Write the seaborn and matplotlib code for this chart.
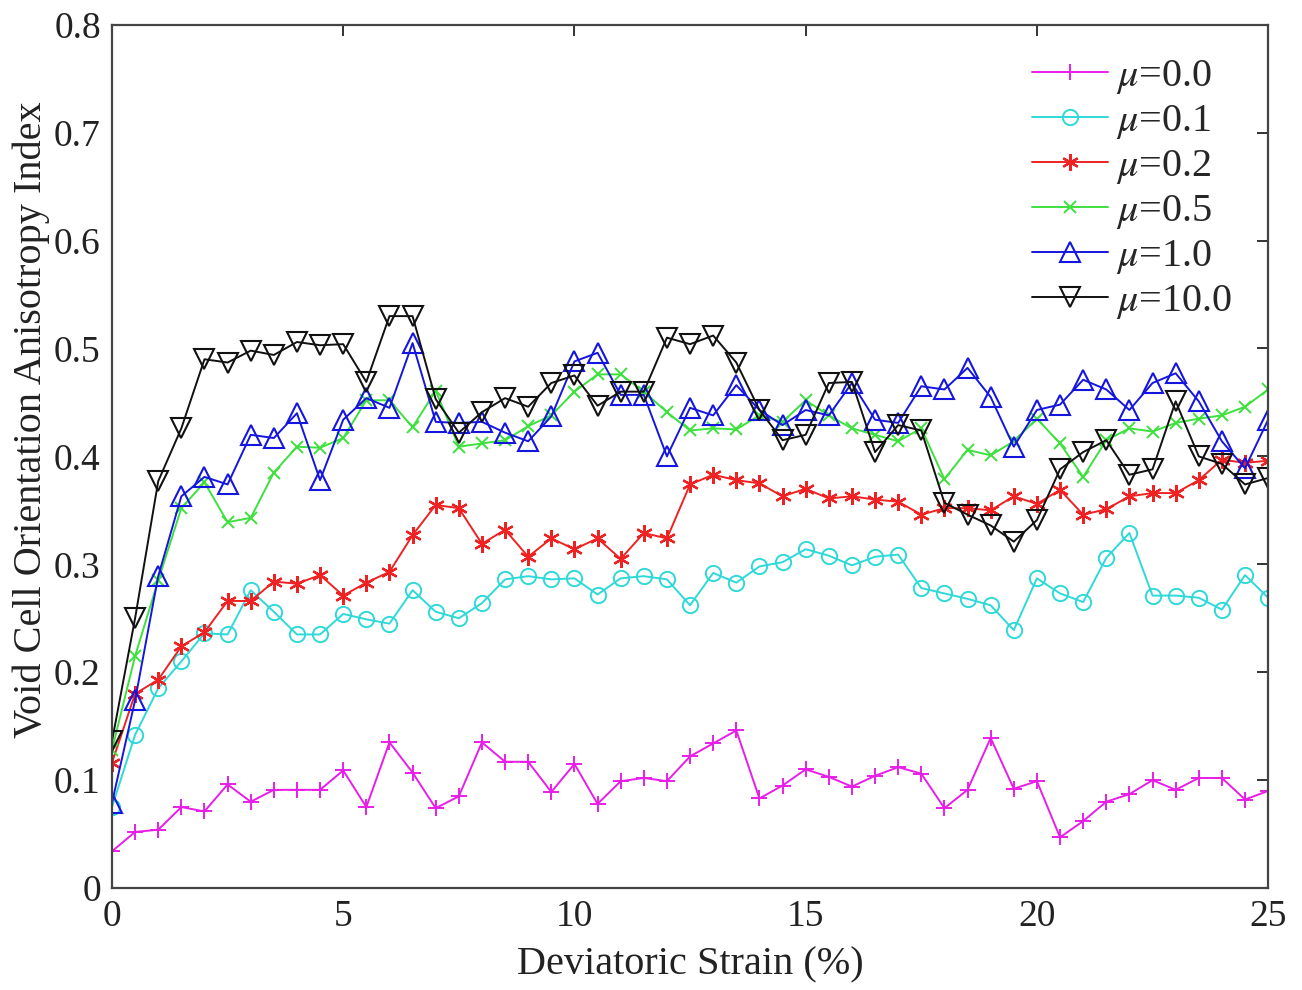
import numpy as np
import pandas as pd
import matplotlib
matplotlib.use("Agg")
import matplotlib.pyplot as plt
import seaborn as sns

# Deviatoric strain (%) sampled every 0.5 %
strain = np.arange(0, 25.01, 0.5)

mu_00 = [0.034, 0.052, 0.054, 0.075, 0.071, 0.096, 0.080, 0.091, 0.091, 0.091,
         0.109, 0.075, 0.135, 0.107, 0.074, 0.085, 0.135, 0.117, 0.117, 0.089,
         0.115, 0.078, 0.099, 0.102, 0.099, 0.122, 0.134, 0.146, 0.083, 0.095,
         0.110, 0.103, 0.094, 0.104, 0.112, 0.106, 0.074, 0.091, 0.139, 0.092,
         0.099, 0.047, 0.062, 0.080, 0.087, 0.100, 0.091, 0.102, 0.102, 0.082,
         0.090]
mu_01 = [0.075, 0.142, 0.185, 0.210, 0.236, 0.235, 0.276, 0.256, 0.235, 0.235,
         0.254, 0.249, 0.245, 0.276, 0.256, 0.250, 0.264, 0.286, 0.289, 0.286,
         0.287, 0.272, 0.287, 0.289, 0.286, 0.262, 0.292, 0.283, 0.298, 0.302,
         0.314, 0.308, 0.299, 0.307, 0.309, 0.278, 0.273, 0.268, 0.262, 0.239,
         0.287, 0.273, 0.265, 0.306, 0.329, 0.271, 0.271, 0.269, 0.258, 0.290,
         0.269]
mu_02 = [0.116, 0.180, 0.193, 0.224, 0.237, 0.266, 0.266, 0.284, 0.282, 0.290,
         0.271, 0.283, 0.293, 0.327, 0.355, 0.352, 0.319, 0.332, 0.307, 0.324,
         0.314, 0.324, 0.305, 0.329, 0.324, 0.374, 0.383, 0.378, 0.375, 0.363,
         0.370, 0.361, 0.363, 0.360, 0.358, 0.346, 0.352, 0.352, 0.350, 0.363,
         0.356, 0.369, 0.346, 0.351, 0.363, 0.366, 0.366, 0.378, 0.397, 0.394,
         0.396]
mu_05 = [0.128, 0.215, 0.285, 0.352, 0.376, 0.339, 0.343, 0.385, 0.409, 0.408,
         0.417, 0.452, 0.452, 0.427, 0.461, 0.409, 0.412, 0.415, 0.428, 0.438,
         0.460, 0.476, 0.476, 0.460, 0.441, 0.424, 0.426, 0.425, 0.438, 0.432,
         0.452, 0.438, 0.426, 0.420, 0.414, 0.426, 0.379, 0.406, 0.401, 0.414,
         0.435, 0.412, 0.381, 0.415, 0.426, 0.423, 0.431, 0.435, 0.438, 0.446,
         0.462]
mu_10 = [0.079, 0.174, 0.289, 0.363, 0.381, 0.374, 0.420, 0.417, 0.440, 0.378,
         0.434, 0.454, 0.445, 0.505, 0.432, 0.431, 0.432, 0.422, 0.414, 0.437,
         0.488, 0.496, 0.457, 0.457, 0.400, 0.445, 0.438, 0.466, 0.443, 0.429,
         0.443, 0.438, 0.468, 0.434, 0.431, 0.465, 0.462, 0.482, 0.455, 0.409,
         0.443, 0.448, 0.471, 0.462, 0.443, 0.468, 0.477, 0.451, 0.414, 0.389,
         0.434]
mu_100 = [0.136, 0.250, 0.377, 0.426, 0.490, 0.487, 0.498, 0.494, 0.506, 0.503,
          0.504, 0.469, 0.530, 0.530, 0.453, 0.422, 0.441, 0.454, 0.446, 0.468,
          0.475, 0.447, 0.460, 0.460, 0.510, 0.504, 0.512, 0.487, 0.443, 0.415,
          0.420, 0.468, 0.469, 0.404, 0.429, 0.424, 0.357, 0.346, 0.336, 0.321,
          0.341, 0.388, 0.404, 0.415, 0.383, 0.388, 0.451, 0.400, 0.393, 0.374,
          0.380]

labels = [r"$\mu$=0.0", r"$\mu$=0.1", r"$\mu$=0.2", r"$\mu$=0.5", r"$\mu$=1.0", r"$\mu$=10.0"]
series = [mu_00, mu_01, mu_02, mu_05, mu_10, mu_100]

x_ticks = [0, 5, 10, 15, 20, 25]
y_ticks = [0, 0.1, 0.2, 0.3, 0.4, 0.5, 0.6, 0.7, 0.8]
y_tick_labels = ["0", "0.1", "0.2", "0.3", "0.4", "0.5", "0.6", "0.7", "0.8"]

# asterisk marker: six spokes
asterisk = (6, 2, 0)

styles = [
    dict(color="#e81ee8", marker="+", ms=12, mew=1.4, mfc="#e81ee8"),
    dict(color="#2fd9d9", marker="o", ms=11, mew=1.4, mfc="none"),
    dict(color="#ee2222", marker=asterisk, ms=12, mew=1.6, mfc="#ee2222"),
    dict(color="#3ee03e", marker="x", ms=8, mew=1.4, mfc="#3ee03e"),
    dict(color="#1515e0", marker="^", ms=14, mew=1.5, mfc="none"),
    dict(color="#111111", marker="v", ms=14, mew=1.5, mfc="none"),
]

sns.set_theme(style="white")
plt.rcParams["font.family"] = ["Liberation Serif", "DejaVu Serif"]
plt.rcParams["mathtext.fontset"] = "stix"

fig = plt.figure(figsize=(13.02, 9.9), dpi=100)
ax = fig.add_axes([0.086, 0.103, 0.888, 0.872])

for lab, vals, st in zip(labels, series, styles):
    df = pd.DataFrame({"strain": strain, "index": vals})
    sns.lineplot(data=df, x="strain", y="index", ax=ax, label=lab,
                 color=st["color"], marker=st["marker"], markersize=st["ms"],
                 markeredgewidth=st["mew"], markerfacecolor=st["mfc"],
                 markeredgecolor=st["color"], linewidth=1.4)

ax.set_xlim(0, 25)
ax.set_ylim(0, 0.8)
ax.set_xticks(x_ticks)
ax.set_xticklabels([str(t) for t in x_ticks])
ax.set_yticks(y_ticks)
ax.set_yticklabels(y_tick_labels)
ax.tick_params(axis="both", which="both", direction="in", length=8, width=1.4,
               colors="#333333", labelsize=27, top=True, right=True,
               labelcolor="#222222", pad=8)
for sp in ax.spines.values():
    sp.set_visible(True)
    sp.set_color("#444444")
    sp.set_linewidth(1.6)

ax.set_xlabel("Deviatoric Strain (%)", fontsize=29, color="#222222", labelpad=9)
ax.set_ylabel("Void Cell Orientation Anisotropy Index", fontsize=29,
              color="#222222")
ax.yaxis.set_label_coords(-0.054, 0.542)

leg = ax.legend(loc="upper right", bbox_to_anchor=(0.99, 0.99), frameon=False,
                fontsize=29, handlelength=1.9, handletextpad=0.2,
                labelspacing=0.17, borderaxespad=0.2)

fig.savefig("out.png", dpi=100)
